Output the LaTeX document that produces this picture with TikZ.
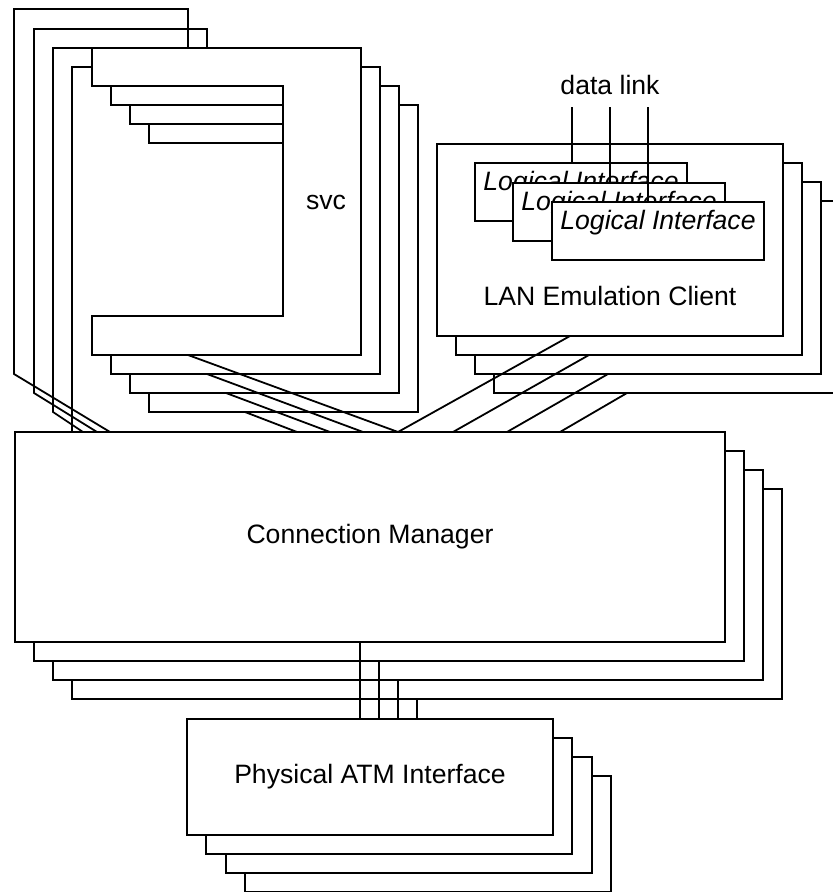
\documentclass[tikz,border=0pt]{standalone}
\usepackage{fontspec}
\setmainfont{Liberation Sans}
\usetikzlibrary{positioning}

\tikzset{
  box/.style={draw, fill=white, rectangle, inner sep=0pt, outer sep=0pt, line width=0.9pt, font=\fontsize{13.3}{16}\selectfont},
  cmbox/.style={box, minimum width=355pt, minimum height=105pt},
  pabox/.style={box, minimum width=183pt, minimum height=58pt},
  lecbox/.style={box, minimum width=173pt, minimum height=96pt},
  libox/.style={box, minimum width=106pt, minimum height=29pt},
  svcshape/.style={draw, fill=white, line width=0.9pt},
  wire/.style={draw, line width=0.9pt},
  txt/.style={inner sep=0pt, font=\fontsize{13.3}{16}\selectfont},
}

\begin{document}
\begin{tikzpicture}[x=0.5pt, y=-0.5pt]
\useasboundingbox (0,0) rectangle (833,892);

% connection manager
\node[cmbox, anchor=north west] (cm3) at (72,489) {};
\node[cmbox, anchor=north west] (cm2) at (53,470) {};
\node[cmbox, anchor=north west] (cm1) at (34,451) {};
\node[cmbox, anchor=north west] (cm0) at (15,432) {Connection Manager};

% svc ports
\coordinate (svc0t) at (188,48);
\coordinate (svc1t) at (207,67);
\coordinate (svc2t) at (226,86);
\coordinate (svc3t) at (245,105);
\coordinate (svc0b) at (188,355);
\coordinate (svc1b) at (207,374);
\coordinate (svc2b) at (226,393);
\coordinate (svc3b) at (245,412);

% round the left side, behind the svc stack
\draw[wire] ([xshift=47.5pt]cm0.north west) -- (14,374) -- (14,9) -- (188,9) -- (svc0t);
\draw[wire] ([xshift=41pt]cm0.north west) -- (34,393) -- (34,29) -- (207,29) -- (svc1t);
\draw[wire] ([xshift=34pt]cm0.north west) -- (53,412) -- (53,48) -- (226,48) -- (svc2t);
\draw[wire] ([xshift=28.5pt]cm0.north west) -- (72,67) -- (245,67) -- (svc3t);

% svc stack
\draw[svcshape, shift={(149,105)}] (0,0) -- (269,0) -- (269,307) -- (0,307) -- (0,268) -- (191,268) -- (191,38) -- (0,38) -- cycle;
\draw[svcshape, shift={(130,86)}] (0,0) -- (269,0) -- (269,307) -- (0,307) -- (0,268) -- (191,268) -- (191,38) -- (0,38) -- cycle;
\draw[svcshape, shift={(111,67)}] (0,0) -- (269,0) -- (269,307) -- (0,307) -- (0,268) -- (191,268) -- (191,38) -- (0,38) -- cycle;
\draw[svcshape, shift={(92,48)}] (0,0) -- (269,0) -- (269,307) -- (0,307) -- (0,268) -- (191,268) -- (191,38) -- (0,38) -- cycle;
\node[txt, anchor=base] (svclabel) at (326,210) {svc};

% LAN emulation client
\node[lecbox, anchor=north west] (lec3) at (494,201) {};
\node[lecbox, anchor=north west] (lec2) at (475,182) {};
\node[lecbox, anchor=north west] (lec1) at (456,163) {};
\node[lecbox, anchor=north west] (lec0) at (437,144) {};
\node[txt, anchor=base] (leclabel) at (610,306) {LAN Emulation Client};

\node[libox, anchor=north west] (li1) at (475,163) {};
\node[txt, anchor=base] (li1label) at (581,191) {\itshape Logical Interface};
\node[libox, anchor=north west] (li2) at (513,183) {};
\node[txt, anchor=base] (li2label) at (619,211) {\itshape Logical Interface};
\node[libox, anchor=north west] (li3) at (552,202) {};
\node[txt, anchor=base] (li3label) at (658,230) {\itshape Logical Interface};

\node[txt, inner ysep=5.5pt, anchor=base] (dlink) at (610,95) {data link};
\draw[wire] (li1.north west) ++(97,0) coordinate (dl1) -- (dl1 |- dlink.south);
\draw[wire] (li2.north west) ++(97,0) coordinate (dl2) -- (dl2 |- dlink.south);
\draw[wire] (li3.north west) ++(96,0) coordinate (dl3) -- (dl3 |- dlink.south);

% down to the connection manager
\draw[wire] (svc0b) -- ([xshift=191.5pt]cm0.north west);
\draw[wire] (svc1b) -- ([xshift=174pt]cm0.north west);
\draw[wire] (svc2b) -- ([xshift=157.5pt]cm0.north west);
\draw[wire] (svc3b) -- ([xshift=141pt]cm0.north west);
\draw[wire] ([xshift=66.5pt]lec0.south west) -- ([xshift=191.5pt]cm0.north west);
\draw[wire] ([xshift=66.5pt]lec1.south west) -- ([xshift=219pt]cm0.north west);
\draw[wire] ([xshift=66.5pt]lec2.south west) -- ([xshift=246pt]cm0.north west);
\draw[wire] ([xshift=66.5pt]lec3.south west) -- ([xshift=272.5pt]cm0.north west);

% physical ATM interface
\node[pabox, anchor=north west] (pa3) at (245,776) {};
\node[pabox, anchor=north west] (pa2) at (226,757) {};
\node[pabox, anchor=north west] (pa1) at (206,738) {};
\node[pabox, anchor=north west] (pa0) at (187,719) {Physical ATM Interface};

\draw[wire] (cm0.south west) ++(345,0) coordinate (pw0) -- (pw0 |- pa0.north);
\draw[wire] (cm1.south west) ++(345,0) coordinate (pw1) -- (pw1 |- pa0.north);
\draw[wire] (cm2.south west) ++(345,0) coordinate (pw2) -- (pw2 |- pa0.north);
\draw[wire] (cm3.south west) ++(345,0) coordinate (pw3) -- (pw3 |- pa0.north);
\end{tikzpicture}
\end{document}
